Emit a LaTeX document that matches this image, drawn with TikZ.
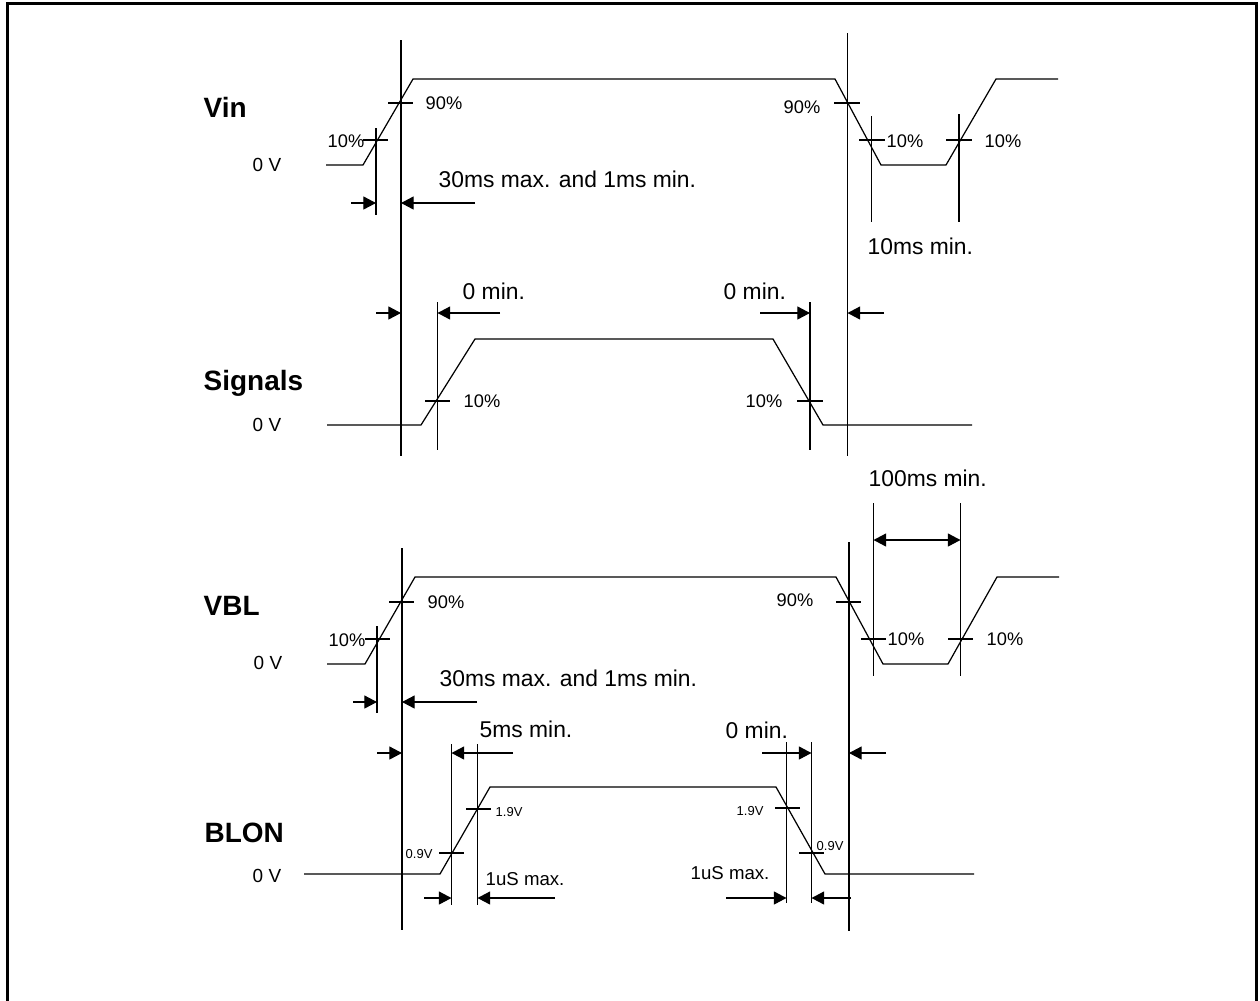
\documentclass[tikz,border=0pt]{standalone}
\usepackage{fontspec}
\setmainfont{Liberation Sans}
\usetikzlibrary{arrows.meta}
\tikzset{
    wave/.style={line width=0.35pt},
    guide/.style={line width=0.35pt},
    dim/.style={line width=0.35pt, -{Triangle[length=3.6pt,width=3.7pt]}},
    dimboth/.style={line width=0.35pt, {Triangle[length=3.6pt,width=3.7pt]}-{Triangle[length=3.6pt,width=3.7pt]}},
    signame/.style={font=\fontsize{7.95}{9}\selectfont\bfseries, inner sep=0pt, anchor=base west},
    zerov/.style={font=\fontsize{5.4}{6}\selectfont, inner sep=0pt, anchor=base west},
    pct/.style={font=\fontsize{5.2}{6}\selectfont, inner sep=0pt, anchor=base west},
    timing/.style={font=\fontsize{6.5}{7.5}\selectfont, inner sep=0pt, anchor=base west},
    usmax/.style={font=\fontsize{5.3}{6}\selectfont, inner sep=0pt, anchor=base west},
    volt/.style={font=\fontsize{3.7}{4.5}\selectfont, inner sep=0pt, anchor=base west}
}
\begin{document}
\begin{tikzpicture}[x=0.1mm, y=-0.1mm]
    \useasboundingbox (0,0) rectangle (1260,1000);
    \draw[line width=0.9pt] (7.5,1005) -- (7.5,3.5) -- (1256.5,3.5) -- (1256.5,1005);

    % Vin
    \node[signame] (vin) at (203,117) {Vin};
    \node[zerov] (vin0) at (252,171) {0 V};
    \draw[wave] (326,165) -- (363,165) -- (413,79) -- (835,79) -- (881,165) -- (946,165) -- (996,79) -- (1058,79);
    \draw[guide] (401,40) -- (401,456);
    \draw[guide] (847.5,33) -- (847.5,456);
    \draw[guide] (376,128) -- (376,215);
    \draw[guide] (871.5,116) -- (871.5,222);
    \draw[guide] (959,114) -- (959,222);
    \draw[guide] (388,103) -- (413,103);
    \draw[guide] (363,140) -- (388,140);
    \draw[guide] (834,103) -- (860,103);
    \draw[guide] (859,140) -- (885,140);
    \draw[guide] (946,140) -- (972,140);
    \node[pct] (vinA) at (425,109) {90\%};
    \node[pct] (vinB) at (327,147) {10\%};
    \node[pct] (vinC) at (783,113) {90\%};
    \node[pct] (vinD) at (886,147) {10\%};
    \node[pct] (vinE) at (984,147) {10\%};
    \draw[dim] (351,203) -- (376,203);
    \draw[dim] (475,203) -- (401,203);
    \node[timing] (vinrise) at (438,187) {30ms max. and 1ms min.};
    \node[timing] (vinoff) at (867,254) {10ms min.};

    % Signals
    \node[signame] (sig) at (203,390) {Signals};
    \node[zerov] (sig0) at (252,431) {0 V};
    \draw[wave] (327,425) -- (421,425) -- (475,339) -- (773,339) -- (823,425) -- (972,425);
    \draw[guide] (437.5,302) -- (437.5,450);
    \draw[guide] (810,302) -- (810,450);
    \draw[guide] (425,401) -- (450,401);
    \draw[guide] (797,401) -- (823,401);
    \node[pct] (sigA) at (463,407) {10\%};
    \node[pct] (sigB) at (745,407) {10\%};
    \draw[dim] (376,313) -- (401,313);
    \draw[dim] (500,313) -- (437.5,313);
    \draw[dim] (760,313) -- (810,313);
    \draw[dim] (884,313) -- (847.5,313);
    \node[timing] (sigon) at (462,299) {0 min.};
    \node[timing] (sigoff) at (723,299) {0 min.};

    % VBL
    \node[signame] (vbl) at (203,615) {VBL};
    \node[zerov] (vbl0) at (253,669) {0 V};
    \draw[wave] (327,664) -- (365,664) -- (415,577) -- (836,577) -- (883,664) -- (948,664) -- (997,577) -- (1059,577);
    \draw[guide] (402,548) -- (402,930);
    \draw[guide] (849,542) -- (849,931);
    \draw[guide] (377,626) -- (377,713);
    \draw[guide] (873.5,503) -- (873.5,676);
    \draw[guide] (960.5,503) -- (960.5,676);
    \draw[guide] (389,602) -- (414,602);
    \draw[guide] (365,639) -- (390,639);
    \draw[guide] (836,602) -- (861,602);
    \draw[guide] (861,639) -- (886,639);
    \draw[guide] (948,639) -- (973,639);
    \node[pct] (vblA) at (427,608) {90\%};
    \node[pct] (vblB) at (328,646) {10\%};
    \node[pct] (vblC) at (776,606) {90\%};
    \node[pct] (vblD) at (887,645) {10\%};
    \node[pct] (vblE) at (986,645) {10\%};
    \draw[dim] (353,702) -- (377,702);
    \draw[dim] (477,702) -- (402,702);
    \draw[dimboth] (873.5,540) -- (960.5,540);
    \node[timing] (vblrise) at (439,686) {30ms max. and 1ms min.};
    \node[timing] (vbloff) at (868,486) {100ms min.};

    % BLON
    \node[signame] (blon) at (204,842) {BLON};
    \node[zerov] (blon0) at (252,882) {0 V};
    \draw[wave] (304,874) -- (440,874) -- (490,787) -- (776,787) -- (825,874) -- (974,874);
    \draw[guide] (451.5,744) -- (451.5,905);
    \draw[guide] (477.5,744) -- (477.5,905);
    \draw[guide] (786.5,742) -- (786.5,903);
    \draw[guide] (811.5,742) -- (811.5,903);
    \draw[guide] (466,809) -- (491,809);
    \draw[guide] (439,853) -- (464,853);
    \draw[guide] (775,808) -- (800,808);
    \draw[guide] (799,853) -- (824,853);
    \node[volt] (blonA) at (495,816) {1.9V};
    \node[volt] (blonB) at (405,858) {0.9V};
    \node[volt] (blonC) at (736,815) {1.9V};
    \node[volt] (blonD) at (816,850) {0.9V};
    \draw[dim] (377,753) -- (402,753);
    \draw[dim] (513,753) -- (451.5,753);
    \draw[dim] (762,753) -- (811.5,753);
    \draw[dim] (886,753) -- (849,753);
    \draw[dim] (424,898) -- (451.5,898);
    \draw[dim] (555,898) -- (477.5,898);
    \draw[dim] (726,898) -- (786.5,898);
    \draw[dim] (851,898) -- (811.5,898);
    \node[timing] (blonon) at (479,737) {5ms min.};
    \node[timing] (blonoff) at (725,738) {0 min.};
    \node[usmax] (blonus) at (485,885) {1uS max.};
    \node[usmax] (blonusB) at (690,879) {1uS max.};
\end{tikzpicture}
\end{document}
